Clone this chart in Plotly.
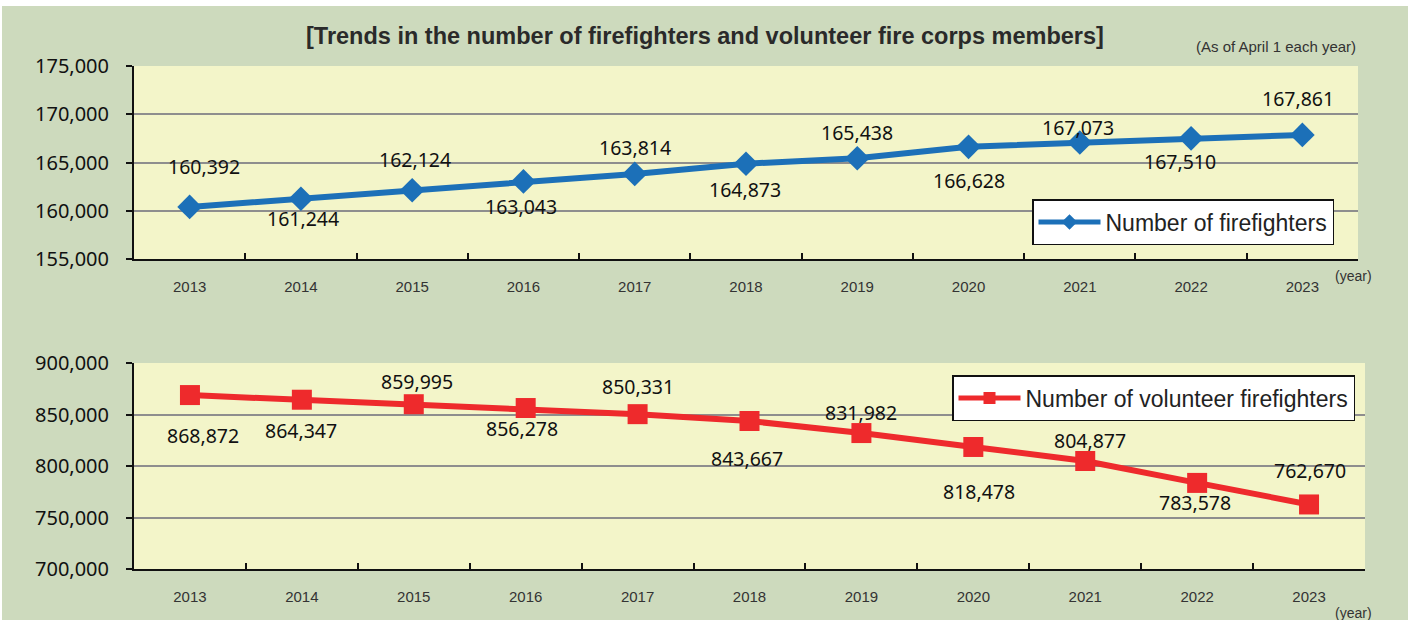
import plotly.graph_objects as go

years = ["2013", "2014", "2015", "2016", "2017", "2018", "2019", "2020", "2021", "2022", "2023"]
firefighters = [160392, 161244, 162124, 163043, 163814, 164873, 165438, 166628, 167073, 167510, 167861]
volunteers = [868872, 864347, 859995, 856278, 850331, 843667, 831982, 818478, 804877, 783578, 762670]

# label offsets (pixels) for data labels
ff_yshift = [40, -20, 31, -25, 26, -26, 26, -34, 15, -23, 36]
ff_xshift = [14, 2, 3, -2, 0, -1, 0, 0, -2, -11, -4]
vol_yshift = [-40, -31, 23, -20, 28, -37, 21, -45, 20, -20, 34]
vol_xshift = [13, -1, 3, -4, 0, -3, 0, 6, 5, -2, 1]

BLUE = "#1C70B8"
RED = "#EE2A2C"
GREEN_BG = "#CDDABD"
PLOT_BG = "#F3F5C9"
LABEL_FONT = "Noto Sans"
SANS = "Liberation Sans"

fig = go.Figure()

fig.add_trace(go.Scatter(
    x=years, y=firefighters, mode="lines+markers", name="Number of firefighters",
    line=dict(color=BLUE, width=6), marker=dict(symbol="diamond", size=19, color=BLUE),
    xaxis="x", yaxis="y", legend="legend", showlegend=True,
))
fig.add_trace(go.Scatter(
    x=years, y=volunteers, mode="lines+markers", name="Number of volunteer firefighters",
    line=dict(color=RED, width=6), marker=dict(symbol="square", size=20, color=RED),
    xaxis="x2", yaxis="y2", legend="legend2", showlegend=True,
))

annotations = []
for i, v in enumerate(firefighters):
    annotations.append(dict(x=i, y=v, xref="x", yref="y", text=f"{v:,}", showarrow=False,
                            yshift=ff_yshift[i], xshift=ff_xshift[i],
                            font=dict(family=LABEL_FONT, size=19.5, color="#111111")))
for i, v in enumerate(volunteers):
    annotations.append(dict(x=i, y=v, xref="x2", yref="y2", text=f"{v:,}", showarrow=False,
                            yshift=vol_yshift[i], xshift=vol_xshift[i],
                            font=dict(family=LABEL_FONT, size=19.5, color="#111111")))

W, H = 1408, 620
def px(x):
    return x / W
def py(y):
    return 1 - y / H

annotations += [
    dict(x=px(705), y=py(36), xref="paper", yref="paper", showarrow=False,
         text="<b>[Trends in the number of firefighters and volunteer fire corps members]</b>",
         font=dict(family=SANS, size=23.5, color="#2a2a2a"), xanchor="center", yanchor="middle"),
    dict(x=px(1358), y=py(46), xref="paper", yref="paper", showarrow=False,
         text="(As of April 1 each year)", font=dict(family=SANS, size=15, color="#333333"),
         xanchor="right", yanchor="middle"),
    dict(x=px(1353), y=py(276), xref="paper", yref="paper", showarrow=False,
         text="(year)", font=dict(family=SANS, size=14, color="#333333"),
         xanchor="center", yanchor="middle"),
    dict(x=px(1353), y=py(613), xref="paper", yref="paper", showarrow=False,
         text="(year)", font=dict(family=SANS, size=14, color="#333333"),
         xanchor="center", yanchor="middle"),
]

xcommon = dict(type="category", range=[-0.5, 10.5], autorange=False, showgrid=False, showline=True,
               linecolor="#111111", linewidth=2,
               ticks="inside", ticklen=6, tickwidth=2, tickcolor="#111111", tickson="boundaries",
               tickfont=dict(family=SANS, size=15, color="#333333"),
               ticklabelstandoff=13, fixedrange=True, zeroline=False)
ycommon = dict(showgrid=True, gridcolor="#8E8E8E", gridwidth=1.5, showline=True, linecolor="#111111",
               linewidth=2, ticks="outside", ticklen=6, tickwidth=2, tickcolor="#111111",
               tickformat=",", tickfont=dict(family=LABEL_FONT, size=20, color="#111111"),
               ticklabelstandoff=13, zeroline=False, autorange=False, fixedrange=True)
# overlay axes that only draw the inner half of the crossing y ticks
yinner = dict(showgrid=False, showline=False, showticklabels=False, ticks="inside", ticklen=7,
              tickwidth=2, tickcolor="#111111", zeroline=False, autorange=False, fixedrange=True,
              side="left")

legend_common = dict(xanchor="left", yanchor="top", bgcolor="white", bordercolor="#111111",
                     borderwidth=1.5, itemwidth=62, itemsizing="constant", visible=True,
                     font=dict(family=SANS, size=23, color="#222222"))

fig.update_layout(
    width=W, height=H, margin=dict(l=0, r=0, t=0, b=0, pad=0, autoexpand=False),
    paper_bgcolor=GREEN_BG, plot_bgcolor=PLOT_BG, showlegend=True,
    xaxis=dict(domain=[px(134), px(1358)], anchor="y", **xcommon),
    yaxis=dict(domain=[py(259), py(66)], anchor="x", range=[155000, 175000], dtick=5000, **ycommon),
    yaxis3=dict(overlaying="y", anchor="x", range=[155000, 175000], dtick=5000, **yinner),
    xaxis2=dict(domain=[px(134), px(1365)], anchor="y2", **xcommon),
    yaxis2=dict(domain=[py(569), py(363)], anchor="x2", range=[700000, 900000], dtick=50000, **ycommon),
    yaxis4=dict(overlaying="y2", anchor="x2", range=[700000, 900000], dtick=50000, **yinner),
    legend=dict(x=px(1032), y=py(199), **legend_common),
    legend2=dict(x=px(952), y=py(375), **legend_common),
    annotations=annotations,
    shapes=[dict(type="rect", xref="paper", yref="paper", x0=0, x1=1, y0=py(6), y1=1,
                 fillcolor="white", line=dict(width=0), layer="below"),
            dict(type="rect", xref="paper", yref="paper", x0=0, x1=px(2), y0=0, y1=1,
                 fillcolor="white", line=dict(width=0), layer="below")],
)

fig.write_html("out.html", config={"displayModeBar": False},
               post_script="document.body.style.margin='0';document.body.style.padding='0';")
